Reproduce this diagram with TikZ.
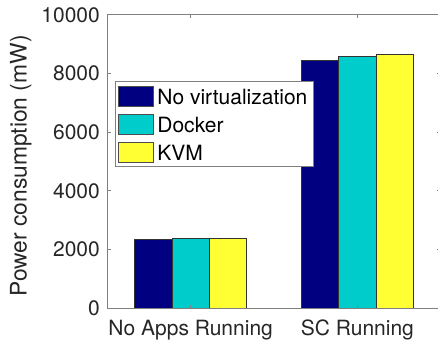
\documentclass[tikz,border=0pt]{standalone}
\usepackage{fontspec}
\setmainfont{TeX Gyre Heros}
\usepackage{xcolor}
\usepackage{tikz}
\usetikzlibrary{positioning}

\definecolor{novirt}{rgb}{0,0,0.5}
\definecolor{docker}{rgb}{0,0.8,0.8}
\definecolor{kvm}{rgb}{1,1,0.2}
\definecolor{axisgray}{gray}{0.5}
\definecolor{textgray}{gray}{0.15}

\begin{document}
\begin{tikzpicture}[
  x=1pt, y=1pt,
  bigfont/.style={font=\fontsize{21}{25}\selectfont, text=textgray},
  bar/.style={draw=black!80, line width=0.5pt},
  axisline/.style={draw=axisgray, line width=0.8pt},
  ytick-label/.style={bigfont, anchor=east, inner sep=0pt},
  xtick-label/.style={bigfont, anchor=base, inner sep=0pt},
  swatch/.style={draw=black!70, line width=0.5pt, minimum width=34.5pt, minimum height=20pt, inner sep=0pt},
  entry/.style={bigfont, anchor=west, inner sep=0pt, text=black},
]
  \useasboundingbox (0,0) rectangle (438,345);
  \clip (0,0) rectangle (438,345);

  % data scope: x in groups, y in mW
  \begin{scope}[shift={(23.95pt,36.7pt)}, x=166.7pt, y=0.02936pt]
    \foreach \grp/\a/\b/\c in {1/2350/2371/2394, 2/8457/8570/8640} {
      \draw[bar, fill=novirt] (\grp-0.3357,0) rectangle (\grp-0.1119,\a);
      \draw[bar, fill=docker] (\grp-0.1119,0) rectangle (\grp+0.1119,\b);
      \draw[bar, fill=kvm] (\grp+0.1119,0) rectangle (\grp+0.3357,\c);
    }

    % frame and ticks
    \draw[axisline] (0.5,0) rectangle (2.5,10000);
    \foreach \v in {0,2000,...,10000} {
      \draw[axisline] (0.5,\v) -- ++(3.3pt,0);
      \draw[axisline] (2.5,\v) -- ++(-3.3pt,0);
      \node[ytick-label, xshift=-7.3pt] (ytick-\v) at (0.5,\v) {\v};
    }
    \foreach \grp in {1,2} {
      \draw[axisline] (\grp,0) -- ++(0,3.3pt);
      \draw[axisline] (\grp,10000) -- ++(0,-3.3pt);
    }
    \node[xtick-label, yshift=-26.7pt] (xtick-noapps) at (1,0) {No Apps Running};
    \node[xtick-label, yshift=-26.7pt] (xtick-sc) at (2,0) {SC Running};
  \end{scope}

  \node[bigfont, font=\fontsize{22.8}{27}\selectfont, rotate=90, anchor=base, inner sep=0pt] (ylabel) at (26.7,179) {Power consumption (mW)};

  % legend
  \node[draw=axisgray, line width=0.8pt, fill=white, minimum width=198.3pt, minimum height=85.5pt, anchor=north west, inner sep=0pt] (legend) at (115,264) {};
  \node[swatch, fill=novirt, anchor=north west] (sw-novirt) at (118.3,258.5) {};
  \node[swatch, fill=docker, below=7.5pt of sw-novirt] (sw-docker) {};
  \node[swatch, fill=kvm, below=7.5pt of sw-docker] (sw-kvm) {};
  \node[entry, right=3.9pt of sw-novirt] (en-novirt) {No virtualization};
  \node[entry, right=3.9pt of sw-docker] (en-docker) {Docker};
  \node[entry, right=3.9pt of sw-kvm] (en-kvm) {KVM};
\end{tikzpicture}
\end{document}
